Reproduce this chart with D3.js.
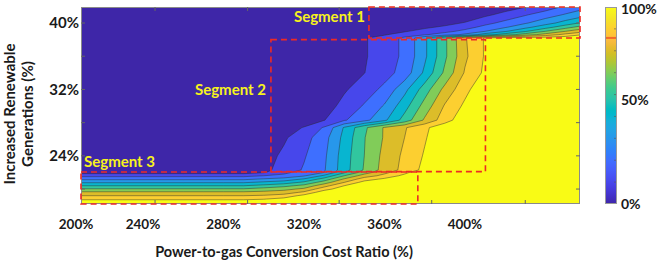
<!DOCTYPE html>
<html>
<head>
<meta charset="utf-8">
<script src="https://cdn.jsdelivr.net/npm/d3@7"></script>
<style>
  body { margin: 0; background: #fff; }
  svg text { font-family: Lato, "Open Sans", sans-serif; font-weight: 700; }
</style>
</head>
<body>
<div id="chart"></div>
<script>
// grid columns: power-to-gas conversion cost ratio (%)
const costRatio = [200, 230, 260, 270, 280, 290, 300, 310, 320, 330, 340, 350,
  360, 370, 380, 390, 400, 410, 420, 430, 440, 450, 460];

// grid rows: increased renewable generation (%), top to bottom
const renewable = [42, 41, 40, 39.5, 39, 38.6, 38.2, 36, 34, 32, 30, 28.3, 27.4,
  26.2, 24, 22.3, 22, 21.6, 21.2, 20.8, 20.4, 20, 19.6, 19.2, 18.8, 18.4, 18];

// value (%), one row per renewable level
const share = [
  [0,0,0,0,0,0,0,0,0,0,0,0,0,0,0,0,0,0,5,9,14,21,27],
  [0,0,0,0,0,0,0,0,0,0,0,0,0,0,0,0,0,8,13,19,25,31,37],
  [0,0,0,0,0,0,0,0,0,0,0,0,0,0,2,6,11,17,23,29,36,44,53],
  [0,0,0,0,0,0,0,0,0,0,0,0,0,3,8,12,16,23,29,37,46,56,66],
  [0,0,0,0,0,0,0,0,0,0,0,1,4,9,14,17,23,30,39,49,60,70,78],
  [0,0,0,0,0,0,0,0,0,0,1,4,9,15,19,25,32,45,55,65,74,83,91],
  [0,0,0,0,0,0,0,0,0,0,3,9,15,22,38,58,79,91,95,95,95,96,100],
  [0,0,0,0,0,0,0,0,0,0,3,9,15,22,38,58,78,91,100,100,100,100,100],
  [0,0,0,0,0,0,0,0,0,0,4,9.8,16,24,42,62,81,92,100,100,100,100,100],
  [0,0,0,0,0,0,0,0,0,2.5,8.8,15,22.5,37,55,73,87,98,100,100,100,100,100],
  [0,0,0,0,0,0,0,0,0,5.4,13,21,31,46,64,81,92,100,100,100,100,100,100],
  [0,0,0,0,0,0,0,0,0.5,9.6,19,27,38,54,71.5,85.5,97,100,100,100,100,100,100],
  [0,0,0,0,0,0,0,1.4,11,21,41,58,71,79,88,96.5,100,100,100,100,100,100,100],
  [0,0,0,0,0,0,1,8.5,16,26,43,59.5,71,80,89,98,100,100,100,100,100,100,100],
  [0,0,0,0,0,0,5.7,12,19,28,45,60,73,82,91,100,100,100,100,100,100,100,100],
  [0,0,0,0,0,0.5,7.3,14,21,29,45.5,61,74,83,93,100,100,100,100,100,100,100,100],
  [6,6,6,6,6,6,9,17,25,30,48.5,65,77.5,87,100,100,100,100,100,100,100,100,100],
  [17,17,17,17,17,17,20,23,29,42,60,75,83,93,100,100,100,100,100,100,100,100,100],
  [28,28,28,28,28,28,31,34,41,54,71,85,92,98,100,100,100,100,100,100,100,100,100],
  [39,39,39,39,39,39,42,45,52,65,80,94,98,100,100,100,100,100,100,100,100,100,100],
  [50,50,50,50,50,50,53,57,63,76,90,100,100,100,100,100,100,100,100,100,100,100,100],
  [61,61,61,61,61,61,64,67,72,86,96,100,100,100,100,100,100,100,100,100,100,100,100],
  [72,72,72,72,72,72,73,75,82,96,100,100,100,100,100,100,100,100,100,100,100,100,100],
  [80,80,80,80,80,80,81,84,93,100,100,100,100,100,100,100,100,100,100,100,100,100,100],
  [88,88,88,88,88,88,89.5,93,98,100,100,100,100,100,100,100,100,100,100,100,100,100,100],
  [97,97,97,97,97,97,97,99,100,100,100,100,100,100,100,100,100,100,100,100,100,100,100],
  [100,100,100,100,100,100,100,100,100,100,100,100,100,100,100,100,100,100,100,100,100,100,100]
];

// contour levels
const levels = [10, 20, 30, 40, 50, 60, 70, 80, 90];

// tick labels
const xTickLabels = [200, 240, 280, 320, 360, 400];
const xTickMarks = [246, 292, 337.5, 383.5, 430];
const yTickLabels = [24, 32, 40];
const yTickMarks = [20, 24, 28, 32, 36, 40];
const colorbarLabels = [0, 50, 100];
const colorbarMark = 84.3;

// annotation boxes, in data units
const segments = [
  { name: "Segment 1", x0: 352.3, x1: 457.2, y0: 38.2, y1: 41.93 },
  { name: "Segment 2", x0: 303.6, x1: 410.2, y0: 22.1, y1: 38.0 },
  { name: "Segment 3", x0: 209.2, x1: 376.6, y0: 18.2, y1: 22.05 }
];

// parula colormap (64)
const parula = [
[0.2422,0.1504,0.6603],[0.2504,0.1650,0.7076],[0.2578,0.1818,0.7511],[0.2647,0.1978,0.7952],
[0.2706,0.2147,0.8364],[0.2751,0.2342,0.8710],[0.2783,0.2559,0.8991],[0.2803,0.2782,0.9221],
[0.2813,0.3006,0.9414],[0.2810,0.3228,0.9579],[0.2795,0.3447,0.9717],[0.2760,0.3667,0.9829],
[0.2699,0.3892,0.9906],[0.2602,0.4123,0.9952],[0.2440,0.4358,0.9988],[0.2206,0.4603,0.9973],
[0.1963,0.4847,0.9892],[0.1834,0.5074,0.9798],[0.1786,0.5289,0.9682],[0.1764,0.5499,0.9520],
[0.1687,0.5703,0.9359],[0.1540,0.5902,0.9218],[0.1460,0.6091,0.9079],[0.1380,0.6276,0.8973],
[0.1248,0.6459,0.8883],[0.1113,0.6635,0.8763],[0.0952,0.6798,0.8598],[0.0689,0.6948,0.8394],
[0.0297,0.7082,0.8163],[0.0036,0.7203,0.7917],[0.0067,0.7312,0.7660],[0.0433,0.7411,0.7394],
[0.0964,0.7500,0.7120],[0.1408,0.7584,0.6842],[0.1717,0.7670,0.6554],[0.1938,0.7758,0.6251],
[0.2161,0.7843,0.5923],[0.2470,0.7918,0.5567],[0.2906,0.7973,0.5188],[0.3406,0.8008,0.4789],
[0.3909,0.8029,0.4354],[0.4456,0.8024,0.3909],[0.5044,0.7993,0.3480],[0.5616,0.7942,0.3045],
[0.6174,0.7876,0.2612],[0.6720,0.7793,0.2227],[0.7242,0.7698,0.1910],[0.7738,0.7598,0.1646],
[0.8203,0.7498,0.1535],[0.8634,0.7406,0.1596],[0.9035,0.7330,0.1774],[0.9393,0.7288,0.2100],
[0.9728,0.7298,0.2394],[0.9956,0.7434,0.2371],[0.9970,0.7659,0.2199],[0.9952,0.7893,0.2028],
[0.9892,0.8136,0.1885],[0.9786,0.8386,0.1766],[0.9676,0.8639,0.1643],[0.9610,0.8890,0.1537],
[0.9597,0.9135,0.1423],[0.9628,0.9373,0.1265],[0.9691,0.9606,0.1064],[0.9769,0.9839,0.0805]
].map(c => d3.rgb(c[0] * 255, c[1] * 255, c[2] * 255).formatHex());

const bandColor = k => parula[Math.round(k / levels.length * 63)];

// layout
const width = 660, height = 262;
const plot = { left: 81, right: 580, top: 7, bottom: 204 };
const bar = { left: 605, width: 12 };

const svg = d3.select("#chart").append("svg")
  .attr("width", width)
  .attr("height", height);

const x = d3.scaleLinear().domain([209.2, 457.2]).range([plot.left, plot.right]);
const y = d3.scaleLinear().domain([18.2, 41.93]).range([plot.bottom, plot.top]);

svg.append("clipPath").attr("id", "plotClip")
  .append("rect")
  .attr("x", plot.left).attr("y", plot.top)
  .attr("width", plot.right - plot.left).attr("height", plot.bottom - plot.top);

// grid index -> data value (grid is not evenly spaced)
function gridPos(arr, c) {
  const s = Math.max(0, Math.min(arr.length - 1, c - 0.5));
  const i = Math.min(arr.length - 2, Math.floor(s));
  return arr[i] + (s - i) * (arr[i + 1] - arr[i]);
}

function contourPath(geom) {
  return geom.coordinates.map(poly => poly.map(ring =>
    "M" + ring.map(p => x(gridPos(costRatio, p[0])).toFixed(2) + "," +
      y(gridPos(renewable, p[1])).toFixed(2)).join("L") + "Z").join("")).join("");
}

const contours = d3.contours()
  .size([costRatio.length, renewable.length])
  .thresholds(levels)(share.flat());

const g = svg.append("g").attr("clip-path", "url(#plotClip)");

// lowest band
g.append("rect")
  .attr("x", plot.left).attr("y", plot.top)
  .attr("width", plot.right - plot.left).attr("height", plot.bottom - plot.top)
  .attr("fill", bandColor(0));

g.selectAll("path.band")
  .data(contours)
  .enter()
  .append("path")
  .attr("class", "band")
  .attr("d", contourPath)
  .attr("fill", (d, i) => bandColor(i + 1))
  .attr("fill-rule", "evenodd");

g.selectAll("path.line")
  .data(contours)
  .enter()
  .append("path")
  .attr("class", "line")
  .attr("d", contourPath)
  .attr("fill", "none")
  .attr("stroke", "#2a2a2a")
  .attr("stroke-opacity", 0.75)
  .attr("stroke-width", 0.6);

// frame and ticks
svg.append("rect")
  .attr("x", plot.left + 0.5).attr("y", plot.top + 0.5)
  .attr("width", plot.right - plot.left - 1).attr("height", plot.bottom - plot.top - 1)
  .attr("fill", "none")
  .attr("stroke", "#8a8a8a");

const tickLen = 4;
yTickMarks.forEach(v => {
  svg.append("line").attr("x1", plot.left).attr("x2", plot.left + tickLen)
    .attr("y1", y(v)).attr("y2", y(v)).attr("stroke", "#666");
  svg.append("line").attr("x1", plot.right - tickLen).attr("x2", plot.right)
    .attr("y1", y(v)).attr("y2", y(v)).attr("stroke", "#666");
});
xTickMarks.forEach(v => {
  svg.append("line").attr("x1", x(v)).attr("x2", x(v))
    .attr("y1", plot.bottom - tickLen).attr("y2", plot.bottom).attr("stroke", "#666");
  svg.append("line").attr("x1", x(v)).attr("x2", x(v))
    .attr("y1", plot.top).attr("y2", plot.top + tickLen).attr("stroke", "#666");
});

// segment boxes
svg.selectAll("rect.segment")
  .data(segments)
  .enter()
  .append("rect")
  .attr("class", "segment")
  .attr("x", d => x(d.x0))
  .attr("y", d => y(d.y1))
  .attr("width", d => x(d.x1) - x(d.x0))
  .attr("height", d => y(d.y0) - y(d.y1))
  .attr("fill", "none")
  .attr("stroke", "#ee2a24")
  .attr("stroke-width", 1.6)
  .attr("stroke-dasharray", "6,4");

// segment labels
const segLabel = svg.append("g")
  .attr("fill", "#f7f21c")
  .style("font-size", "15px");
segLabel.append("text")
  .attr("x", x(segments[0].x0) - 4).attr("y", 22)
  .attr("text-anchor", "end")
  .text(segments[0].name);
segLabel.append("text")
  .attr("x", x(segments[1].x0) - 5).attr("y", 95)
  .attr("text-anchor", "end")
  .text(segments[1].name);
segLabel.append("text")
  .attr("x", x(segments[2].x0) + 3).attr("y", y(segments[2].y1) - 5)
  .text(segments[2].name);

// axis labels
svg.selectAll("text.ytick")
  .data(yTickLabels)
  .enter()
  .append("text")
  .attr("class", "ytick")
  .attr("x", plot.left - 2)
  .attr("y", d => y(d))
  .attr("dy", "0.35em")
  .attr("text-anchor", "end")
  .style("font-size", "15px")
  .attr("fill", "#1a1a1a")
  .text(d => d + "%");

svg.selectAll("text.xtick")
  .data(xTickLabels)
  .enter()
  .append("text")
  .attr("class", "xtick")
  .attr("x", d => Math.max(x(d), plot.left - 5))
  .attr("y", 229)
  .attr("text-anchor", "middle")
  .style("font-size", "13.5px")
  .attr("fill", "#1a1a1a")
  .text(d => d + "%");

svg.append("text")
  .attr("x", 284).attr("y", 257)
  .attr("text-anchor", "middle")
  .style("font-size", "14.5px")
  .attr("fill", "#1a1a1a")
  .text("Power-to-gas Conversion Cost Ratio (%)");

const yTitle = svg.append("g")
  .attr("transform", "translate(0,114) rotate(-90)")
  .attr("fill", "#1a1a1a")
  .style("font-size", "15px");
yTitle.append("text").attr("x", 0).attr("y", 15).attr("text-anchor", "middle")
  .text("Increased Renewable");
yTitle.append("text").attr("x", 0).attr("y", 33).attr("text-anchor", "middle")
  .text("Generations (%)");

// colorbar
const c = d3.scaleLinear().domain([0, 100]).range([plot.bottom, plot.top]);
const grad = svg.append("defs").append("linearGradient")
  .attr("id", "parulaGrad")
  .attr("x1", 0).attr("y1", 1).attr("x2", 0).attr("y2", 0);
parula.forEach((col, i) => {
  grad.append("stop").attr("offset", i / 63).attr("stop-color", col);
});
svg.append("rect")
  .attr("x", bar.left).attr("y", c(100))
  .attr("width", bar.width).attr("height", c(0) - c(100))
  .attr("fill", "url(#parulaGrad)");
svg.append("line")
  .attr("x1", bar.left).attr("x2", bar.left + bar.width)
  .attr("y1", c(colorbarMark)).attr("y2", c(colorbarMark))
  .attr("stroke", "#f26a2c").attr("stroke-width", 2);
levels.slice(0, -1).forEach((v, i) => {
  const yy = c((i + 1) * 100 / levels.length);
  svg.append("line")
    .attr("x1", bar.left + bar.width - 3).attr("x2", bar.left + bar.width)
    .attr("y1", yy).attr("y2", yy)
    .attr("stroke", "#555").attr("stroke-opacity", 0.6);
});
svg.append("rect")
  .attr("x", bar.left + 0.5).attr("y", c(100) + 0.5)
  .attr("width", bar.width - 1).attr("height", c(0) - c(100) - 1)
  .attr("fill", "none").attr("stroke", "#999");

svg.selectAll("text.cbar")
  .data(colorbarLabels)
  .enter()
  .append("text")
  .attr("class", "cbar")
  .attr("x", bar.left + bar.width + 4)
  .attr("y", d => c(d) - (d === 50 ? 5 : 0) + (d === 100 ? 2 : 0))
  .attr("dy", "0.35em")
  .style("font-size", "14px")
  .attr("fill", "#1a1a1a")
  .text(d => d + "%");
</script>
</body>
</html>
